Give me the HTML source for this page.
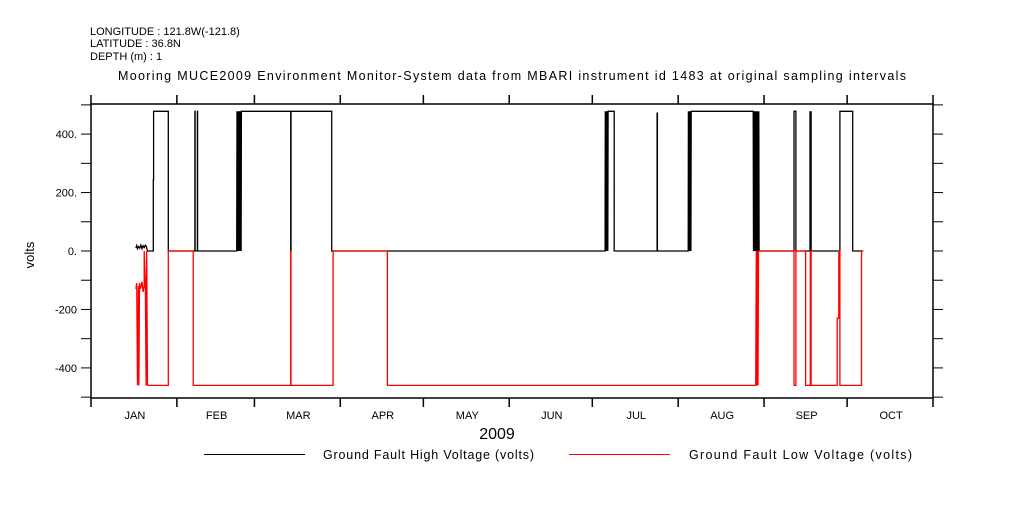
<!DOCTYPE html>
<html><head><meta charset="utf-8"><style>
html,body{margin:0;padding:0;background:#fff;}
svg text{font-family:"Liberation Sans",sans-serif;fill:#000;}
</style></head><body>
<svg id="chart" width="1009" height="504" xmlns="http://www.w3.org/2000/svg">
<text x="90" y="35" font-size="11">LONGITUDE : 121.8W(-121.8)</text>
<text x="90" y="47" font-size="11">LATITUDE : 36.8N</text>
<text x="90" y="60" font-size="11">DEPTH (m) : 1</text>
<text x="118" y="80" font-size="12.5" textLength="788">Mooring MUCE2009 Environment Monitor-System data from MBARI instrument id 1483 at original sampling intervals</text>
<text x="0" y="0" font-size="13" text-anchor="middle" transform="translate(34,255) rotate(-90)">volts</text>
<text x="497" y="439" font-size="16" text-anchor="middle">2009</text>
<line x1="204" y1="454.5" x2="305" y2="454.5" stroke="#000" stroke-width="1" shape-rendering="crispEdges"/>
<text x="323" y="459" font-size="12.5" textLength="211">Ground Fault High Voltage (volts)</text>
<line x1="569" y1="454.5" x2="670" y2="454.5" stroke="#f00" stroke-width="1" shape-rendering="crispEdges"/>
<text x="689" y="459" font-size="12.5" textLength="223">Ground Fault Low Voltage (volts)</text>
<g id="axes"></g>
<g id="series"></g>
</svg>
<script>
const months = ["JAN","FEB","MAR","APR","MAY","JUN","JUL","AUG","SEP","OCT"];
const monthStarts = [0,31,59,90,120,151,181,212,243,273,304];
const yTicks = [-500,-400,-300,-200,-100,0,100,200,300,400,500];
const yLabels = [-400,-200,0,200,400];
const yLabelText = ["-400","-200","0.","200.","400."];
const highDays = [16.2,16.5,16.8,17.2,17.6,18,18.4,18.8,19.2,19.6,20,20.4,20.7,22.5,22.5,22.6,22.6,27.9,27.9,37.5,37.5,37.6,37.6,38.4,38.4,38.5,38.5,52.6,52.7,52.8,52.9,53,53.1,53.2,53.3,53.4,53.5,53.6,53.7,53.8,53.9,54,54.1,54.2,54.3,54.4,72.1,72.1,72.2,72.2,86.9,86.9,185.6,185.6,185.7,185.8,185.9,186,186.1,186.2,186.3,186.4,186.5,186.6,186.7,188.9,188.9,204.4,204.4,204.5,204.5,215.6,215.7,215.8,215.9,216,216.1,216.2,216.3,216.4,216.5,216.6,216.7,216.8,239.1,239.2,239.3,239.4,239.5,239.6,239.7,239.8,239.9,240,240.1,240.2,240.3,240.4,240.5,240.6,240.7,240.8,240.9,241,241.1,241.2,253.8,253.8,254.5,254.5,259.6,259.6,259.8,260,260,270.4,270.4,275,275,278.8];
const highVals = [10,18,8,15,10,20,8,18,12,20,15,0,0,0,244,244,478,478,0,0,478,478,0,0,478,478,0,0,478,0,478,0,478,0,478,0,478,0,478,0,478,0,478,0,478,478,478,0,0,478,478,0,0,107,478,0,478,0,478,0,478,0,478,0,478,478,0,0,472,472,0,0,478,0,478,0,478,0,478,0,478,0,478,478,478,0,478,0,478,0,478,0,478,0,478,0,478,0,478,0,478,0,478,0,478,0,0,478,478,0,0,478,0,478,0,0,478,478,0,0];
const lowDays = [16.2,16.5,16.8,17.1,17.3,17.5,17.8,18.1,18.4,18.8,19.2,19.2,19.6,19.9,20.1,20.4,20.7,27.9,27.9,36.9,36.9,72.1,72.1,72.2,72.2,87.4,87.4,107,107,240,240.2,240.4,240.6,240.8,241,241.2,253.8,253.8,254.5,254.5,258,258,259.7,259.7,260,260,269.4,269.4,270,270,270.4,270.4,278.2,278.2,278.8];
const lowVals = [-130,-110,-460,-120,-460,-110,-130,-120,-105,-140,-120,0,-100,-460,0,-460,-460,-460,0,0,-460,-460,0,0,-460,-460,0,0,-460,-460,0,-460,0,-460,0,0,0,-460,-460,0,0,-460,-460,0,0,-460,-460,-230,-230,0,0,-460,-460,0,0];
const X0=91, X1=933, Y0=104, Y1=398, DMAX=304, VMIN=-503, VMAX=503;
const xs = d => X0 + d*(X1-X0)/DMAX;
const ys = v => Y1 - (v-VMIN)*(Y1-Y0)/(VMAX-VMIN);
const NS="http://www.w3.org/2000/svg";
const axes=document.getElementById('axes'), series=document.getElementById('series');
function mk(tag, attrs, parent){const e=document.createElementNS(NS,tag);for(const k in attrs)e.setAttribute(k,attrs[k]);parent.appendChild(e);return e;}
const frame = mk('rect',{x:X0,y:Y0,width:X1-X0,height:Y1-Y0,fill:'none',stroke:'#000','stroke-width':1.5},axes);


monthStarts.forEach(d=>{
  const x=xs(d);
  const t1=mk('line',{x1:x,y1:Y0-9,x2:x,y2:Y0,stroke:'#000','stroke-width':1.5},axes);
  
  
  const t2=mk('line',{x1:x,y1:Y1,x2:x,y2:Y1+9,stroke:'#000','stroke-width':1.5},axes);
  
  
});
months.forEach((m,i)=>{
  const t=mk('text',{x:xs((monthStarts[i]+monthStarts[i+1])/2)+1,y:419,'font-size':11,'text-anchor':'middle'},axes);
  t.textContent=m;
  
  
});
yTicks.forEach(v=>{
  const y=ys(v);
  const a=mk('line',{x1:X0-10,y1:y,x2:X0,y2:y,stroke:'#000','stroke-width':1},axes);
  
  
  const b=mk('line',{x1:X1,y1:y,x2:X1+10,y2:y,stroke:'#000','stroke-width':1},axes);
  
  
});
yLabels.forEach((v,i)=>{
  const t=mk('text',{x:77,y:ys(v)+4,'font-size':11,'text-anchor':'end'},axes);
  t.textContent=yLabelText[i];
  
  
});
function pts(ds,vs){return ds.map((d,i)=>xs(d).toFixed(1)+','+ys(vs[i]).toFixed(1)).join(' ');}
const hl=mk('polyline',{points:pts(highDays,highVals),fill:'none',stroke:'#000','stroke-width':1.3},series);


const ll=mk('polyline',{points:pts(lowDays,lowVals),fill:'none',stroke:'#f00','stroke-width':1.3},series);


</script>
</body></html>
